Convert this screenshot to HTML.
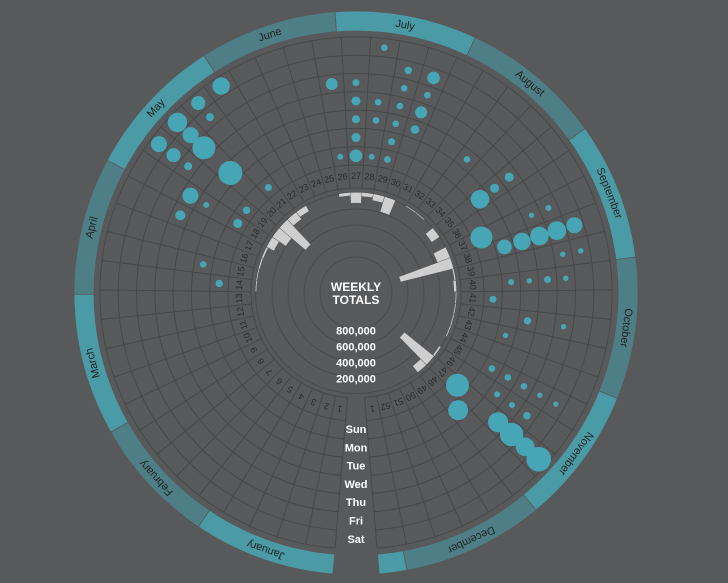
<!DOCTYPE html>
<html><head><meta charset="utf-8"><style>
html,body{margin:0;padding:0;background:#58595b;}
svg{display:block;font-family:"Liberation Sans",sans-serif;}
</style></head><body>
<svg id="chart" width="728" height="583" viewBox="0 0 728 583" xmlns="http://www.w3.org/2000/svg">
<rect width="728" height="583" fill="#58595b"/>
</svg>
<script>
const weekTotals = [0,0,0,0,0,0,0,0,0,0,0,0,0,10000,10000,15000,20000,100000,200000,425000,106000,75000,0,0,0,37000,129000,44000,79000,195000,0,8000,8000,0,114000,0,168000,680000,15000,30000,10000,10000,10000,10000,0,20000,475000,100000,0,0,0,0,0];
const weekLabels = [1,2,3,4,5,6,7,8,9,10,11,12,13,14,15,16,17,18,19,20,21,22,23,24,25,26,27,28,29,30,31,32,33,34,35,36,37,38,39,40,41,42,43,44,45,46,47,48,49,50,51,52,1];
const dayLabels = ["Sun","Mon","Tue","Wed","Thu","Fri","Sat"];
const totalTicks = [200000,400000,600000,800000];
const tickLabels = ["200,000","400,000","600,000","800,000"];
const monthNames = ["January","February","March","April","May","June","July","August","September","October","November","December",""];
const monthStarts = [0,31,59,90,120,151,181,212,243,273,304,334,365];
const monthEnds = [31,59,90,120,151,181,212,243,273,304,334,365,371];
const bubbleWeeks = [22,21,21,20,20,20,19,19,19,20,18,18,17,21,19,18,15,14,28,29,30,26,27,29,30,27,28,29,30,27,28,29,30,27,29,26,27,28,29,33,35,35,35,37,37,38,38,38,38,38,37,39,39,40,40,40,40,41,42,42,43,45,45,45,45,45,46,46,46,47,48,47,47,47,47];
const bubbleDays = [6,6,5,6,5,4,6,5,4,2,3,2,3,0,0,0,1,0,6,5,5,4,4,4,4,3,3,3,3,2,2,2,2,1,1,0,0,0,0,2,3,2,1,4,3,5,4,3,2,1,0,5,4,4,3,2,1,0,2,4,1,1,2,3,4,5,2,3,4,0,1,3,4,5,6];
const bubbleValues = [757,490,160,941,640,1323,640,490,160,1440,640,90,250,123,137,203,109,137,109,137,397,360,123,109,109,203,109,109,360,160,109,109,185,203,123,90,397,90,109,109,203,203,865,90,73,640,865,865,757,533,1210,73,73,73,123,73,90,123,137,73,73,109,109,109,73,73,90,90,137,1323,1000,1000,1369,865,1513];

const NS="http://www.w3.org/2000/svg";
const svg=document.getElementById('chart');
const cx=356, cy=293;
const STEP=6.615, START=184.69;
const dayR0=128, dayW=18.3;
function weekAngle(w){return START+(w-0.5)*STEP;}
function dayAngle(d){return START+d*STEP/7;}
function dayRadius(d){return dayR0+(d+0.5)*dayW;}
function totalRadius(v){return 100.5-v/200000*16;}
function bubbleRadius(v){return Math.sqrt(v/10);}
function pt(r,a){const t=a*Math.PI/180;return [cx+r*Math.sin(t),cy-r*Math.cos(t)];}
function sector(r0,r1,a0,a1){
  const p1=pt(r1,a0),p2=pt(r1,a1),p3=pt(r0,a1),p4=pt(r0,a0);
  const lg=(a1-a0)>180?1:0;
  return `M${p1[0]},${p1[1]}A${r1},${r1} 0 ${lg} 1 ${p2[0]},${p2[1]}L${p3[0]},${p3[1]}A${r0},${r0} 0 ${lg} 0 ${p4[0]},${p4[1]}Z`;
}
function arc(r,a0,a1){
  const p1=pt(r,a0),p2=pt(r,a1);const lg=(a1-a0)>180?1:0;
  return `M${p1[0]},${p1[1]}A${r},${r} 0 ${lg} 1 ${p2[0]},${p2[1]}`;
}
function mk(tag,attrs){const e=document.createElementNS(NS,tag);for(const k in attrs)e.setAttribute(k,attrs[k]);svg.appendChild(e);return e;}
const END=START+weekTotals.length*STEP;

for(let i=0;i<monthStarts.length;i++){
  const a0=dayAngle(monthStarts[i]), a1=Math.min(dayAngle(monthEnds[i]),END);
  const p=mk('path',{d:sector(262,282,a0,a1),fill:(i%2===0)?'#4a9ba6':'#4e7f87',stroke:'#58595b','stroke-width':0.8});
  
  
  if(monthNames[i]){
    const am=(a0+a1)/2;const q=pt(272,am);
    const t=mk('text',{x:q[0],y:q[1],'text-anchor':'middle','dominant-baseline':'central','font-size':11,fill:'#222',transform:`rotate(${am} ${q[0]} ${q[1]})`});
    t.textContent=monthNames[i];
    
    
  }
}
[36,52,68,84,100.5].forEach(r=>{
  const c=mk('circle',{cx:cx,cy:cy,r:r,fill:'none',stroke:'#4a4a4a','stroke-width':1});
  
  
});
const ringRadii=[105];for(let i=0;i<=7;i++)ringRadii.push(dayR0+i*dayW);
ringRadii.forEach(r=>{
  const p=mk('path',{d:arc(r,START,END),fill:'none',stroke:'#484848','stroke-width':1});
  
  
});
for(let k=0;k<=weekTotals.length;k++){
  const a=START+k*STEP;const p1=pt(105,a),p2=pt(dayR0+7*dayW,a);
  const l=mk('line',{x1:p1[0],y1:p1[1],x2:p2[0],y2:p2[1],stroke:'#484848','stroke-width':1});
  
  
}
weekTotals.forEach((v,i)=>{
  if(v<=0)return;
  const a0=START+i*STEP+0.15,a1=START+(i+1)*STEP-0.15;
  const p=mk('path',{d:sector(totalRadius(v),100.5,a0,a1),fill:'#cfcfcf'});
  
  
});
weekLabels.forEach((w,i)=>{
  const a=weekAngle(i+1);const q=pt(117,a);
  const t=mk('text',{x:q[0],y:q[1],'text-anchor':'middle','dominant-baseline':'central','font-size':9,fill:'#2a2a2a',transform:`rotate(${a} ${q[0]} ${q[1]})`});
  t.textContent=w;
  
  
});
bubbleWeeks.forEach((w,i)=>{
  const q=pt(dayRadius(bubbleDays[i]),weekAngle(w));
  const c=mk('circle',{cx:q[0],cy:q[1],r:bubbleRadius(bubbleValues[i]),fill:'#47a6b6'});
  
  
});
dayLabels.forEach((d,i)=>{
  const t=mk('text',{x:cx,y:cy+137+i*dayW,'text-anchor':'middle','dominant-baseline':'central','font-size':11,'font-weight':'bold',fill:'#fff'});
  t.textContent=d;
  
  
});
[["WEEKLY",287],["TOTALS",300]].forEach(([s,y])=>{
  const t=mk('text',{x:cx,y:y,'text-anchor':'middle','dominant-baseline':'central','font-size':12,'font-weight':'bold',fill:'#fff'});
  t.textContent=s;
  
  
});
totalTicks.forEach((v,i)=>{
  const t=mk('text',{x:cx,y:cy+totalRadius(v)+2,'text-anchor':'middle','dominant-baseline':'central','font-size':11,'font-weight':'bold',fill:'#fff'});
  t.textContent=tickLabels[i];
  
  
});
</script>
</body></html>
